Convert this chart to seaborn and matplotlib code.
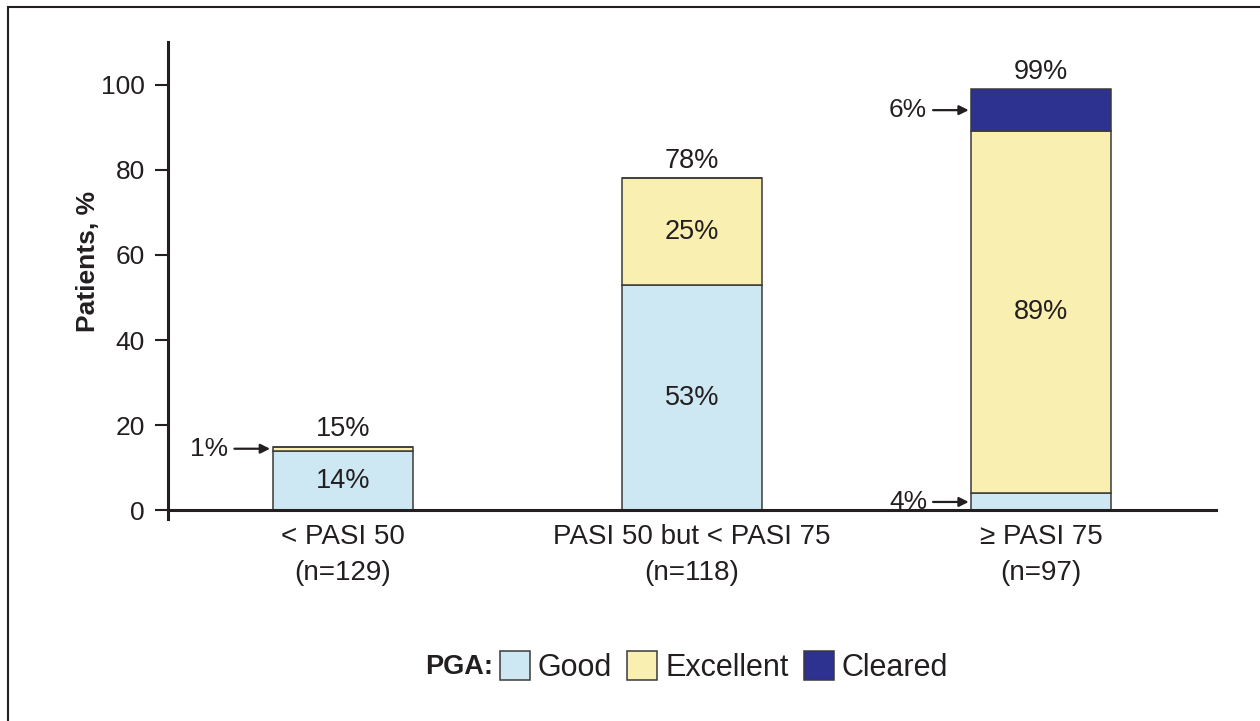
import numpy as np
import pandas as pd
import seaborn as sns
import matplotlib.pyplot as plt
from matplotlib.patches import Patch, Rectangle

# data
categories = ["< PASI 50\n(n=129)", "PASI 50 but < PASI 75\n(n=118)", "\u2265 PASI 75\n(n=97)"]
good = [14, 53, 4]
excellent = [1, 25, 85]
cleared = [0, 0, 10]
good_labels = ["14%", "53%", ""]
excellent_labels = ["", "25%", "89%"]
total_labels = ["15%", "78%", "99%"]
# small segments labelled with an arrow: (bar index, label, segment)
arrow_labels = [(0, "1%", "excellent"), (2, "6%", "cleared"), (2, "4%", "good")]

col_good = "#CDE8F3"
col_exc = "#F9EFB0"
col_clr = "#2D3190"
edge = "#3a3a3a"
txt = "#231f20"

sns.set_style("white")
plt.rcParams["font.family"] = ["Liberation Sans", "DejaVu Sans"]
plt.rcParams["font.size"] = 19

fig = plt.figure(figsize=(12.6, 7.21), dpi=100)
ax = fig.add_axes([168 / 1260, 1 - 519 / 721, 1048 / 1260, 477 / 721])

bottom_exc = np.array(good)
bottom_clr = bottom_exc + np.array(excellent)

sns.barplot(x=categories, y=good, color=col_good, edgecolor=edge, linewidth=1.1,
            width=0.4, ax=ax, saturation=1)
sns.barplot(x=categories, y=excellent, bottom=bottom_exc, color=col_exc, edgecolor=edge,
            linewidth=1.1, width=0.4, ax=ax, saturation=1)
sns.barplot(x=categories, y=cleared, bottom=bottom_clr, color=col_clr, edgecolor=edge,
            linewidth=1.1, width=0.4, ax=ax, saturation=1)

ax.bar_label(ax.containers[0], labels=good_labels, label_type="center", fontsize=19.5, color=txt)
ax.bar_label(ax.containers[1], labels=excellent_labels, label_type="center", fontsize=19.5, color=txt)

totals = bottom_clr + np.array(cleared)
for i, lab in enumerate(total_labels):
    ax.annotate(lab, xy=(i, totals[i]), xytext=(0, 3), textcoords="offset points",
                ha="center", va="bottom", fontsize=19.5, color=txt)

seg_mid = {"good": np.array(good) / 2,
           "excellent": bottom_exc + np.array(excellent) / 2,
           "cleared": bottom_clr + np.array(cleared) / 2}
for i, lab, seg in arrow_labels:
    ax.annotate(lab, xy=(i - 0.2, seg_mid[seg][i]), xytext=(-32, 0), textcoords="offset points",
                ha="right", va="center", fontsize=19, color=txt,
                arrowprops=dict(arrowstyle="-|>", color=txt, lw=1.6,
                                mutation_scale=14, shrinkA=2, shrinkB=2))

ax.set_xlim(-0.5, 2.5)
ax.set_ylim(-2, 110)
ax.set_yticks([0, 20, 40, 60, 80, 100])
ax.spines["top"].set_visible(False)
ax.spines["right"].set_visible(False)
ax.spines["bottom"].set_position(("data", 0))
for s in ["left", "bottom"]:
    ax.spines[s].set_linewidth(2.2)
    ax.spines[s].set_color(txt)
ax.tick_params(axis="y", length=9.5, width=1.5, pad=7, labelsize=19, colors=txt, left=True)
ax.tick_params(axis="x", length=0, pad=10, labelsize=20, colors=txt)
for t in ax.get_xticklabels():
    t.set_linespacing(1.5)
ax.set_ylabel("Patients, %", fontsize=19, fontweight="bold", color=txt)
ax.yaxis.set_label_coords(-0.065, 0.539)
ax.set_xlabel("")

handles = [Patch(facecolor=col_good, edgecolor=edge, linewidth=1.1),
           Patch(facecolor=col_exc, edgecolor=edge, linewidth=1.1),
           Patch(facecolor=col_clr, edgecolor=edge, linewidth=1.1)]
fig.legend(handles, ["Good", "Excellent", "Cleared"], loc="center",
           bbox_to_anchor=(724 / 1260, 1 - 667 / 721), ncol=3, frameon=False,
           fontsize=22, handlelength=0.98, handleheight=1.05, handletextpad=0.26,
           columnspacing=0.5, labelcolor=txt)
fig.text(425 / 1260, 1 - 667 / 721, "PGA:", fontsize=19.5, fontweight="bold",
         ha="left", va="center", color=txt)

fig.patches.append(Rectangle((8 / 1260, -0.2), 1.5, 1.2 - 7 / 721, transform=fig.transFigure,
                             fill=False, edgecolor=txt, linewidth=1.5))

fig.savefig("out.png", dpi=100)
